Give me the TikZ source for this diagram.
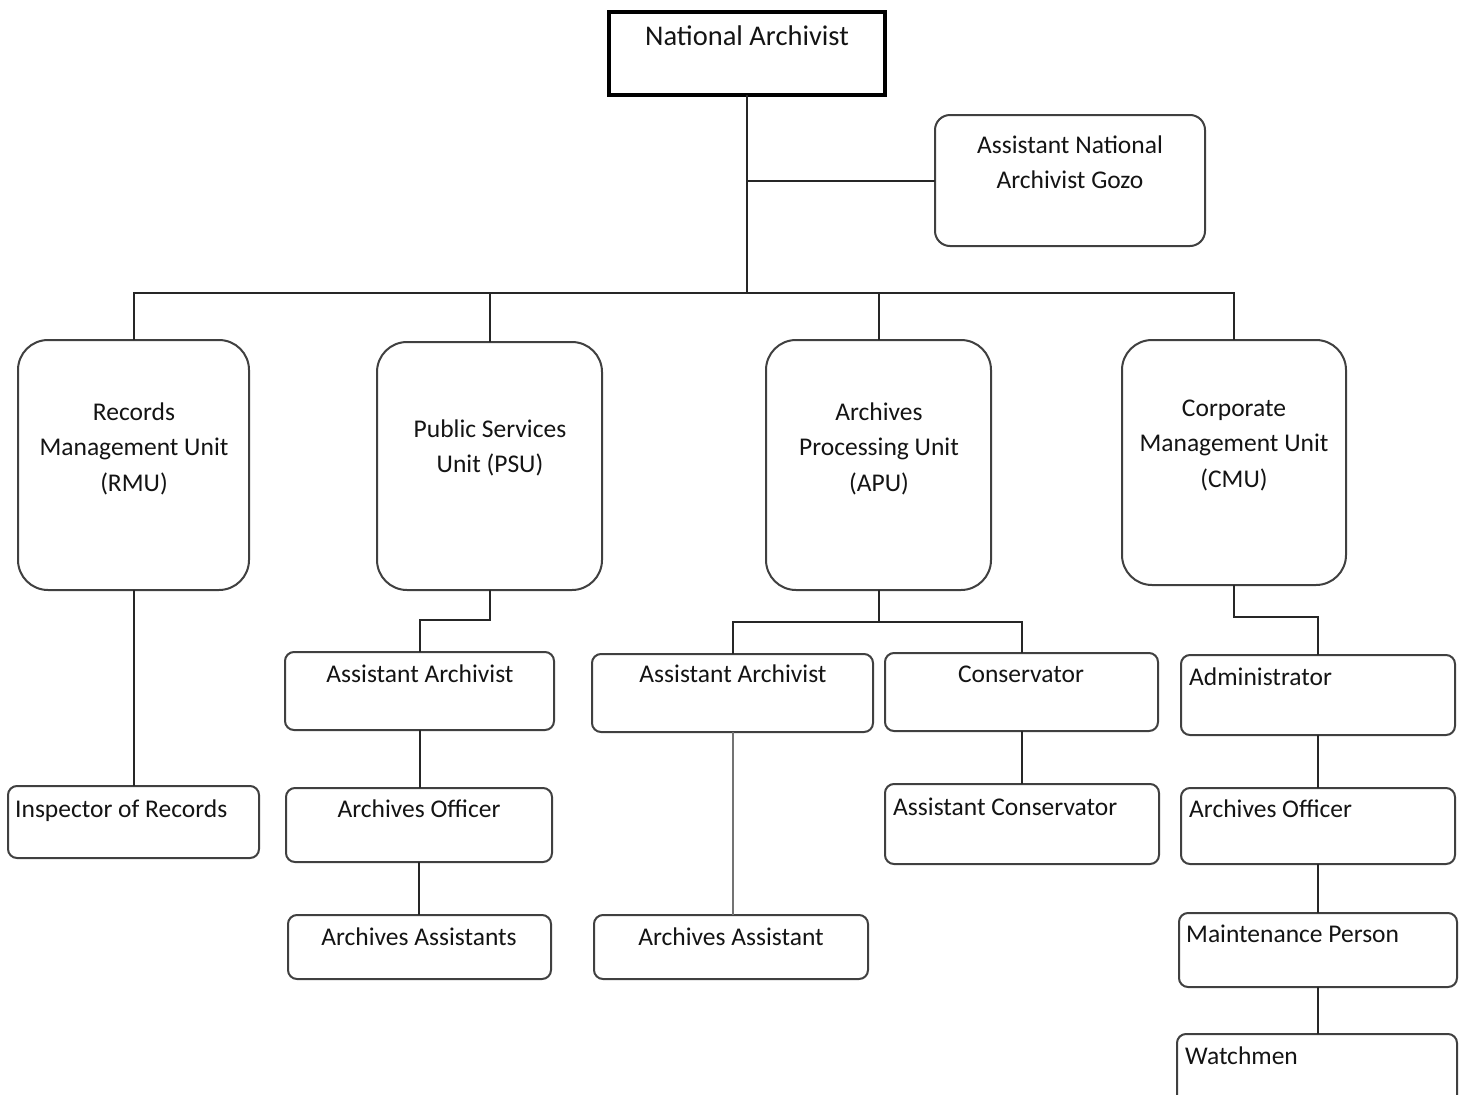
\documentclass[tikz,border=0pt]{standalone}
\usepackage{fontspec}
\setmainfont{Carlito}
\newcommand{\mlines}[1]{\begin{tabular}[t]{@{}c@{}}#1\end{tabular}}
\begin{document}
\begin{tikzpicture}[x=1pt,y=-1pt,
  box/.style={draw=black!75, line width=2pt, anchor=north west, inner sep=0pt, outer sep=0pt, rounded corners=9pt},
  unitbox/.style={box, rounded corners=30pt},
  topbox/.style={draw=black, line width=3.5pt, anchor=north west, inner sep=0pt, outer sep=0pt},
  txt/.style={anchor=base, inner sep=0pt, font=\fontsize{25.5}{35.5}\selectfont, text=black!92},
  ltxt/.style={txt, anchor=base west},
  conn/.style={draw=black!85, line width=2pt},
]
\useasboundingbox[fill=white] (0,0) rectangle (1465,1095);

% boxes
\node[topbox, minimum width=276pt, minimum height=83pt] (na) at (609,12) {};
\node[box, rounded corners=15pt, minimum width=270pt, minimum height=131pt] (anag) at (935,115) {};
\node[unitbox, minimum width=231pt, minimum height=250pt] (rmu) at (18,340) {};
\node[unitbox, minimum width=225pt, minimum height=248pt] (psu) at (377,342) {};
\node[unitbox, minimum width=225pt, minimum height=250pt] (apu) at (766,340) {};
\node[unitbox, minimum width=224pt, minimum height=245pt] (cmu) at (1122,340) {};
\node[box, minimum width=251pt, minimum height=72pt] (insp) at (8,786) {};
\node[box, minimum width=269pt, minimum height=78pt] (paa) at (285,652) {};
\node[box, minimum width=266pt, minimum height=74pt] (pao) at (286,788) {};
\node[box, minimum width=263pt, minimum height=64pt] (pas) at (288,915) {};
\node[box, minimum width=281pt, minimum height=78pt] (aaa) at (592,654) {};
\node[box, minimum width=273pt, minimum height=78pt] (cons) at (885,653) {};
\node[box, minimum width=274pt, minimum height=80pt] (acons) at (885,784) {};
\node[box, minimum width=274pt, minimum height=64pt] (aas) at (594,915) {};
\node[box, minimum width=274pt, minimum height=80pt] (adm) at (1181,655) {};
\node[box, minimum width=274pt, minimum height=76pt] (cao) at (1181,788) {};
\node[box, minimum width=278pt, minimum height=74pt] (mnt) at (1179,913) {};
\node[box, minimum width=280pt, minimum height=80pt] (wat) at (1177,1034) {};

% texts
\node[txt, font=\fontsize{28.5}{34}\selectfont] (na-t) at (747,45) {National Archivist};
\node[txt] (anag-t) at (1070,153) {\mlines{Assistant National\\Archivist Gozo}};
\node[txt] (rmu-t) at (134,420) {\mlines{Records\\Management Unit\\(RMU)}};
\node[txt] (psu-t) at (490,437) {\mlines{Public Services\\Unit (PSU)}};
\node[txt] (apu-t) at (879,420) {\mlines{Archives\\Processing Unit\\(APU)}};
\node[txt] (cmu-t) at (1234,416) {\mlines{Corporate\\Management Unit\\(CMU)}};
\node[ltxt] (insp-t) at (15,817) {Inspector of Records};
\node[txt] (paa-t) at (420,682) {Assistant Archivist};
\node[txt] (pao-t) at (419,817) {Archives Officer};
\node[txt] (pas-t) at (419,945) {Archives Assistants};
\node[txt] (aaa-t) at (733,682) {Assistant Archivist};
\node[txt] (aas-t) at (731,945) {Archives Assistant};
\node[txt] (cons-t) at (1021,682) {Conservator};
\node[ltxt] (acons-t) at (893,815) {Assistant Conservator};
\node[ltxt] (adm-t) at (1189,685) {Administrator};
\node[ltxt] (cao-t) at (1189,817) {Archives Officer};
\node[ltxt] (mnt-t) at (1186,942) {Maintenance Person};
\node[ltxt] (wat-t) at (1185,1064) {Watchmen};

% connectors
\coordinate (j1) at (747,293);
\coordinate (apuj) at (878.5,622);
\draw[conn] (na.south) -- (j1);
\draw[conn] (na.south |- anag.west) -- (anag.west);
\draw[conn] (rmu.north) |- (j1) -| (cmu.north);
\draw[conn] (psu.north) -- (psu.north |- j1);
\draw[conn] (apu.north) -- (apu.north |- j1);
\draw[conn] (rmu.south) -- (rmu.south |- insp.north);
\draw[conn] (psu.south) -- ++(0,30) -| (paa.north);
\draw[conn] (paa.south) -- (paa.south |- pao.north);
\draw[conn] (pao.south) -- (pao.south |- pas.north);
\draw[conn] (apu.south) -- (apuj);
\draw[conn] (aaa.north) |- (apuj) -| (cons.north);
\draw[conn, draw=black!55] (aaa.south) -- (aaa.south |- aas.north);
\draw[conn] (cons.south) -- (cons.south |- acons.north);
\draw[conn] (cmu.south) -- ++(0,32) -| (adm.north);
\draw[conn] (adm.south) -- (adm.south |- cao.north);
\draw[conn] (cao.south) -- (cao.south |- mnt.north);
\draw[conn] (mnt.south) -- (mnt.south |- wat.north);
\end{tikzpicture}
\end{document}
